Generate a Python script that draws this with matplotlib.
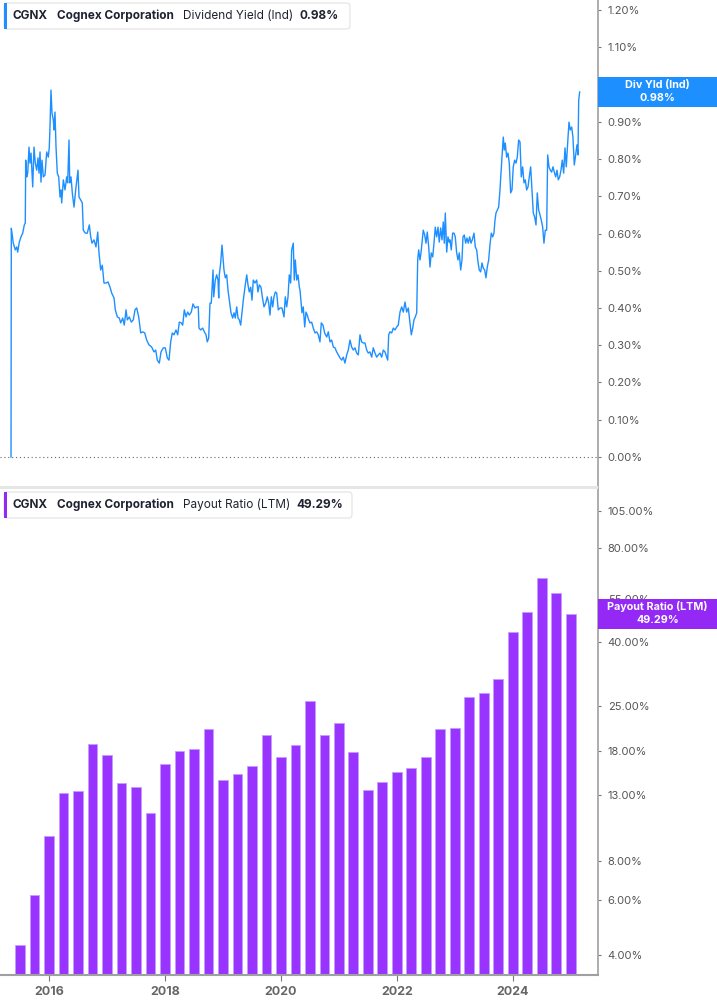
import matplotlib
matplotlib.use("Agg")
import matplotlib.pyplot as plt
from matplotlib.patches import Rectangle, FancyBboxPatch
from matplotlib.ticker import FixedLocator, NullLocator

plt.rcParams['font.family'] = ['Inter', 'DejaVu Sans']

# daily dividend yield (%) (decimal years)
yield_t = [2015.345, 2015.350, 2015.362, 2015.384, 2015.419, 2015.443, 2015.460, 2015.488, 2015.517, 2015.547,
           2015.574, 2015.591, 2015.598, 2015.616, 2015.633, 2015.655, 2015.672, 2015.690, 2015.719, 2015.741,
           2015.764, 2015.788, 2015.810, 2015.828, 2015.845, 2015.862, 2015.879, 2015.902, 2015.931, 2015.960,
           2015.988, 2016.005, 2016.017, 2016.034, 2016.052, 2016.074, 2016.086, 2016.103, 2016.121, 2016.143,
           2016.167, 2016.190, 2016.207, 2016.219, 2016.247, 2016.276, 2016.305, 2016.322, 2016.345, 2016.357,
           2016.379, 2016.402, 2016.431, 2016.460, 2016.500, 2016.517, 2016.547, 2016.574, 2016.591, 2016.626,
           2016.660, 2016.695, 2016.719, 2016.741, 2016.776, 2016.810, 2016.840, 2016.862, 2016.891, 2016.919,
           2016.948, 2016.983, 2017.017, 2017.052, 2017.081, 2017.121, 2017.143, 2017.178, 2017.212, 2017.236,
           2017.271, 2017.298, 2017.328, 2017.350, 2017.384, 2017.419, 2017.453, 2017.483, 2017.512, 2017.547,
           2017.581, 2017.616, 2017.650, 2017.684, 2017.724, 2017.771, 2017.810, 2017.840, 2017.867, 2017.902,
           2017.931, 2017.971, 2018.005, 2018.040, 2018.069, 2018.098, 2018.126, 2018.155, 2018.190, 2018.219,
           2018.247, 2018.281, 2018.305, 2018.333, 2018.362, 2018.391, 2018.419, 2018.453, 2018.483, 2018.517,
           2018.547, 2018.574, 2018.586, 2018.616, 2018.650, 2018.678, 2018.707, 2018.729, 2018.753, 2018.776,
           2018.798, 2018.828, 2018.840, 2018.867, 2018.891, 2018.914, 2018.926, 2018.936, 2018.960, 2018.983,
           2019.000, 2019.017, 2019.040, 2019.064, 2019.086, 2019.109, 2019.138, 2019.167, 2019.190, 2019.212,
           2019.236, 2019.259, 2019.281, 2019.305, 2019.328, 2019.350, 2019.379, 2019.409, 2019.431, 2019.453,
           2019.478, 2019.500, 2019.522, 2019.552, 2019.581, 2019.603, 2019.626, 2019.655, 2019.678, 2019.707,
           2019.736, 2019.764, 2019.788, 2019.810, 2019.833, 2019.857, 2019.879, 2019.902, 2019.926, 2019.953,
           2019.983, 2020.017, 2020.052, 2020.074, 2020.098, 2020.121, 2020.143, 2020.167, 2020.184, 2020.212,
           2020.229, 2020.247, 2020.271, 2020.293, 2020.316, 2020.328, 2020.345, 2020.362, 2020.384, 2020.409,
           2020.431, 2020.453, 2020.478, 2020.500, 2020.529, 2020.557, 2020.586, 2020.616, 2020.643, 2020.672,
           2020.695, 2020.724, 2020.753, 2020.788, 2020.816, 2020.845, 2020.874, 2020.902, 2020.931, 2020.960,
           2020.988, 2021.017, 2021.047, 2021.074, 2021.103, 2021.133, 2021.160, 2021.190, 2021.219, 2021.247,
           2021.276, 2021.305, 2021.333, 2021.362, 2021.391, 2021.419, 2021.448, 2021.478, 2021.505, 2021.534,
           2021.564, 2021.591, 2021.621, 2021.650, 2021.678, 2021.707, 2021.736, 2021.764, 2021.793, 2021.822,
           2021.840, 2021.857, 2021.879, 2021.909, 2021.936, 2021.966, 2021.995, 2022.022, 2022.052, 2022.081,
           2022.109, 2022.138, 2022.167, 2022.195, 2022.224, 2022.247, 2022.271, 2022.293, 2022.316, 2022.340,
           2022.357, 2022.374, 2022.397, 2022.414, 2022.431, 2022.453, 2022.478, 2022.500, 2022.522, 2022.547,
           2022.569, 2022.591, 2022.616, 2022.638, 2022.660, 2022.684, 2022.707, 2022.729, 2022.753, 2022.776,
           2022.798, 2022.816, 2022.833, 2022.857, 2022.879, 2022.902, 2022.914, 2022.936, 2022.960, 2022.983,
           2023.005, 2023.029, 2023.052, 2023.074, 2023.098, 2023.121, 2023.138, 2023.160, 2023.184, 2023.207,
           2023.229, 2023.253, 2023.276, 2023.298, 2023.328, 2023.350, 2023.374, 2023.397, 2023.419, 2023.443,
           2023.466, 2023.488, 2023.512, 2023.534, 2023.557, 2023.581, 2023.603, 2023.626, 2023.650, 2023.672,
           2023.690, 2023.707, 2023.729, 2023.753, 2023.776, 2023.793, 2023.810, 2023.833, 2023.850, 2023.867,
           2023.891, 2023.914, 2023.936, 2023.960, 2023.983, 2024.005, 2024.029, 2024.052, 2024.074, 2024.098,
           2024.121, 2024.143, 2024.167, 2024.190, 2024.212, 2024.236, 2024.259, 2024.281, 2024.305, 2024.328,
           2024.350, 2024.374, 2024.397, 2024.419, 2024.443, 2024.466, 2024.488, 2024.512, 2024.534, 2024.557,
           2024.581, 2024.598, 2024.621, 2024.643, 2024.667, 2024.690, 2024.712, 2024.736, 2024.759, 2024.781,
           2024.805, 2024.828, 2024.850, 2024.874, 2024.897, 2024.919, 2024.943, 2024.966, 2024.988, 2025.012,
           2025.034, 2025.057, 2025.081, 2025.103, 2025.121, 2025.133, 2025.150]
yield_v = [0.000, 0.614, 0.601, 0.574, 0.556, 0.564, 0.550, 0.577, 0.591, 0.601,
           0.623, 0.628, 0.797, 0.752, 0.762, 0.832, 0.789, 0.816, 0.725, 0.832,
           0.789, 0.770, 0.803, 0.762, 0.819, 0.738, 0.797, 0.752, 0.757, 0.819,
           0.805, 0.832, 0.886, 0.985, 0.923, 0.905, 0.878, 0.926, 0.832, 0.762,
           0.752, 0.698, 0.717, 0.682, 0.744, 0.717, 0.752, 0.736, 0.851, 0.736,
           0.752, 0.709, 0.671, 0.717, 0.770, 0.698, 0.690, 0.682, 0.609, 0.601,
           0.601, 0.623, 0.591, 0.574, 0.583, 0.564, 0.604, 0.548, 0.502, 0.515,
           0.467, 0.467, 0.470, 0.456, 0.440, 0.427, 0.395, 0.376, 0.373, 0.360,
           0.373, 0.354, 0.395, 0.368, 0.376, 0.362, 0.368, 0.395, 0.400, 0.376,
           0.333, 0.336, 0.333, 0.314, 0.301, 0.295, 0.282, 0.287, 0.260, 0.252,
           0.282, 0.293, 0.293, 0.266, 0.260, 0.309, 0.333, 0.328, 0.341, 0.328,
           0.362, 0.360, 0.354, 0.395, 0.376, 0.389, 0.381, 0.389, 0.411, 0.400,
           0.403, 0.403, 0.346, 0.341, 0.346, 0.336, 0.328, 0.309, 0.319, 0.413,
           0.413, 0.502, 0.430, 0.475, 0.489, 0.475, 0.427, 0.489, 0.521, 0.569,
           0.537, 0.502, 0.481, 0.489, 0.448, 0.421, 0.387, 0.373, 0.387, 0.373,
           0.403, 0.373, 0.368, 0.354, 0.387, 0.421, 0.456, 0.489, 0.462, 0.443,
           0.456, 0.421, 0.475, 0.467, 0.475, 0.443, 0.462, 0.456, 0.430, 0.403,
           0.413, 0.430, 0.413, 0.381, 0.430, 0.403, 0.430, 0.443, 0.440, 0.395,
           0.400, 0.400, 0.376, 0.430, 0.403, 0.430, 0.489, 0.467, 0.556, 0.574,
           0.475, 0.529, 0.475, 0.489, 0.456, 0.448, 0.416, 0.387, 0.403, 0.349,
           0.389, 0.381, 0.368, 0.360, 0.362, 0.346, 0.333, 0.336, 0.328, 0.309,
           0.360, 0.354, 0.333, 0.322, 0.336, 0.309, 0.314, 0.295, 0.293, 0.282,
           0.274, 0.266, 0.260, 0.268, 0.252, 0.274, 0.287, 0.314, 0.295, 0.287,
           0.293, 0.279, 0.274, 0.328, 0.309, 0.306, 0.306, 0.287, 0.279, 0.282,
           0.268, 0.293, 0.279, 0.268, 0.274, 0.279, 0.268, 0.287, 0.282, 0.268,
           0.260, 0.328, 0.336, 0.333, 0.346, 0.341, 0.349, 0.354, 0.389, 0.403,
           0.389, 0.416, 0.389, 0.400, 0.360, 0.328, 0.346, 0.368, 0.376, 0.387,
           0.529, 0.556, 0.529, 0.548, 0.574, 0.609, 0.596, 0.574, 0.604, 0.564,
           0.510, 0.548, 0.537, 0.574, 0.617, 0.591, 0.617, 0.577, 0.615, 0.583,
           0.631, 0.574, 0.655, 0.550, 0.591, 0.577, 0.583, 0.556, 0.601, 0.601,
           0.591, 0.548, 0.529, 0.548, 0.502, 0.529, 0.591, 0.596, 0.574, 0.588,
           0.574, 0.591, 0.574, 0.583, 0.601, 0.564, 0.556, 0.523, 0.502, 0.497,
           0.521, 0.507, 0.502, 0.481, 0.510, 0.529, 0.569, 0.601, 0.591, 0.601,
           0.636, 0.655, 0.663, 0.671, 0.717, 0.762, 0.805, 0.859, 0.824, 0.843,
           0.805, 0.816, 0.789, 0.709, 0.717, 0.779, 0.797, 0.789, 0.805, 0.851,
           0.846, 0.752, 0.779, 0.736, 0.744, 0.717, 0.725, 0.752, 0.779, 0.717,
           0.655, 0.644, 0.623, 0.709, 0.663, 0.650, 0.636, 0.617, 0.574, 0.609,
           0.609, 0.811, 0.779, 0.770, 0.765, 0.779, 0.765, 0.752, 0.770, 0.744,
           0.752, 0.770, 0.797, 0.762, 0.830, 0.779, 0.843, 0.899, 0.878, 0.886,
           0.859, 0.784, 0.811, 0.838, 0.811, 0.958, 0.980]

# quarterly payout ratio (LTM, %)
payout_q = [2015.50, 2015.75, 2016.00, 2016.25, 2016.50, 2016.75, 2017.00, 2017.25, 2017.50, 2017.75,
            2018.00, 2018.25, 2018.50, 2018.75, 2019.00, 2019.25, 2019.50, 2019.75, 2020.00, 2020.25,
            2020.50, 2020.75, 2021.00, 2021.25, 2021.50, 2021.75, 2022.00, 2022.25, 2022.50, 2022.75,
            2023.00, 2023.25, 2023.50, 2023.75, 2024.00, 2024.25, 2024.50, 2024.75, 2025.00]
payout_v = [4.31, 6.22, 9.61, 13.16, 13.38, 18.91, 17.48, 14.23, 13.76, 11.36,
            16.36, 17.92, 18.19, 21.17, 14.48, 15.14, 16.05, 20.21, 17.15, 18.77,
            26.00, 20.21, 22.08, 17.79, 13.51, 14.27, 15.39, 15.82, 17.19, 21.07,
            21.23, 26.78, 27.46, 30.51, 43.20, 49.80, 64.30, 57.40, 49.29]

yield_ticks = [0.0, 0.1, 0.2, 0.3, 0.4, 0.5, 0.6, 0.7, 0.8, 0.9, 1.0, 1.1, 1.2]
payout_ticks = [4, 6, 8, 13, 18, 25, 40, 55, 80, 105]
year_ticks = [2016, 2018, 2020, 2022, 2024]

W, H = 717, 1005
BLUE = '#1e8fff'
PURPLE = '#9933ff'
AX_GREY = '#a0a0a0'
LBL = '#555555'

fig = plt.figure(figsize=(W / 100, H / 100), dpi=100)


def fx(px):
    return px / W


def fy(py):
    return 1 - py / H


xlim = (2015.155, 2025.466)
ax_right = 598

# --- top panel: dividend yield ---
ax1 = fig.add_axes([0, fy(486), fx(ax_right), fy(0) - fy(486)])
ax1.plot(yield_t, yield_v, color=BLUE, lw=1.0)
ax1.axhline(0, color='#666666', lw=0.8, ls=(0, (1, 2.5)))
ax1.set_xlim(*xlim)
ax1.set_ylim(-0.078, 1.227)

# --- bottom panel: payout ratio ---
ax2 = fig.add_axes([0, fy(975), fx(ax_right), fy(488) - fy(975)])
ax2.set_yscale('log')
ax2.bar(payout_q, payout_v, width=0.172, color=PURPLE, edgecolor='#c79bff', linewidth=0.6)
ax2.set_xlim(*xlim)
ax2.set_ylim(3.457, 124.3)

for ax in (ax1, ax2):
    for s in ('left', 'top', 'bottom'):
        ax.spines[s].set_visible(False)
    ax.spines['right'].set_color(AX_GREY)
    ax.spines['right'].set_linewidth(1.2)
    ax.yaxis.tick_right()
    ax.tick_params(axis='y', which='both', length=2, color='#777777', pad=5,
                   labelsize=8, labelcolor=LBL)
    ax.set_facecolor('none')

ax1.yaxis.set_major_locator(FixedLocator(yield_ticks))
ax1.set_yticklabels([f'{t:.2f}%' for t in yield_ticks])
ax1.xaxis.set_major_locator(NullLocator())

ax2.yaxis.set_major_locator(FixedLocator(payout_ticks))
ax2.yaxis.set_minor_locator(NullLocator())
ax2.set_yticklabels([f'{t:.2f}%' for t in payout_ticks])
ax2.spines['bottom'].set_visible(True)
ax2.spines['bottom'].set_color(AX_GREY)
ax2.spines['bottom'].set_linewidth(1.5)
ax2.set_xticks(year_ticks)
ax2.set_xticklabels([str(y) for y in year_ticks])
ax2.tick_params(axis='x', length=4, color='#777777', pad=4, labelsize=9, labelcolor='#666666')
for t in ax2.get_xticklabels():
    t.set_fontweight('bold')

# separator between the panels
fig.add_artist(Rectangle((0, fy(489)), fx(ax_right), fy(486) - fy(489),
                         transform=fig.transFigure, color='#e6e6e6', lw=0))

# --- value boxes on the right axis ---
def value_box(ax, val, title, text, color):
    py = H - ax.transData.transform((xlim[0], val))[1]
    box_h = 30
    fig.add_artist(Rectangle((fx(ax_right), fy(py + box_h / 2)), 1 - fx(ax_right), box_h / H,
                             transform=fig.transFigure, color=color, lw=0, zorder=5))
    cx = fx((ax_right + W) / 2)
    fig.text(cx, fy(py - 7), title, color='white', fontsize=7.8, fontweight='bold',
             ha='center', va='center', zorder=6)
    fig.text(cx, fy(py + 6), text, color='white', fontsize=7.8, fontweight='bold',
             ha='center', va='center', zorder=6)


value_box(ax1, yield_v[-1], 'Div Yld (Ind)', f'{yield_v[-1]:.2f}%', BLUE)
value_box(ax2, payout_v[-1], 'Payout Ratio (LTM)', f'{payout_v[-1]:.2f}%', '#9429f5')


# --- legends top left of each panel ---
def legend(py_top, width, color, metric, value, value_x):
    fig.add_artist(FancyBboxPatch((fx(4), fy(py_top + 26)), fx(width), 26 / H,
                                  boxstyle='round,pad=0,rounding_size=0.004',
                                  transform=fig.transFigure, facecolor='white',
                                  edgecolor='#e2e2e2', lw=0.8, zorder=5))
    fig.add_artist(Rectangle((fx(4), fy(py_top + 26)), fx(3), 26 / H,
                             transform=fig.transFigure, color=color, lw=0, zorder=6))
    yc = fy(py_top + 13)
    kw = dict(fontsize=8.5, color='#1f2330', va='center', zorder=7)
    fig.text(fx(13), yc, 'CGNX', fontweight='bold', **kw)
    fig.text(fx(57), yc, 'Cognex Corporation', fontweight='bold', **kw)
    fig.text(fx(183), yc, metric, **kw)
    fig.text(fx(value_x), yc, value, fontweight='bold', **kw)


legend(3, 346, BLUE, 'Dividend Yield (Ind)', f'{yield_v[-1]:.2f}%', 300)
legend(492, 348, '#9429f5', 'Payout Ratio (LTM)', f'{payout_v[-1]:.2f}%', 296)

fig.savefig('out.png', dpi=100)
